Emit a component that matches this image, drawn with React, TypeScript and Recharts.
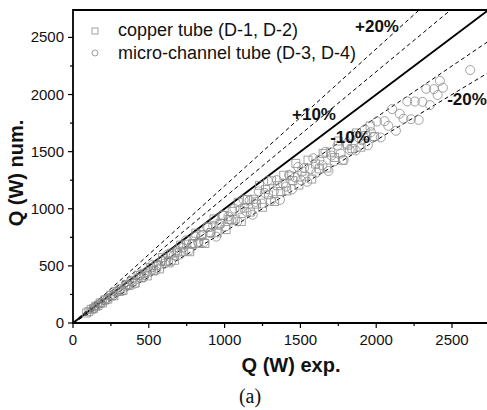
import { ScatterChart, Scatter, XAxis, YAxis, ZAxis, ReferenceArea } from "recharts";

/* ── axes ─────────────────────────────────────────── */
const X_MAX = 2744;
const Y_MAX = 2740;
const TICKS = [0, 250, 500, 750, 1000, 1250, 1500, 1750, 2000, 2250, 2500];

/* ── measured points (Q exp., Q num.) ─────────────── */
const COPPER: [number, number][] = [
	[90, 88], [105, 100], [120, 119], [135, 126], [150, 146], [165, 152], [180, 176],
	[195, 176], [210, 202], [230, 209], [250, 243], [270, 238], [290, 276], [310, 279],
	[330, 284], [350, 336], [370, 329], [390, 363], [410, 349], [430, 417], [450, 396],
	[470, 432], [490, 412], [510, 485], [530, 461], [550, 501], [570, 473], [590, 572],
	[610, 543], [630, 536], [650, 611], [670, 549], [690, 621], [710, 682], [730, 628],
	[750, 690], [770, 624], [790, 695], [810, 786], [830, 697], [850, 774], [870, 696],
	[890, 837], [910, 792], [930, 911], [950, 789], [970, 873], [990, 941], [1010, 818],
	[1030, 906], [1050, 977], [1070, 910], [1090, 1057], [1110, 888], [1130, 1006],
	[1150, 1081], [1170, 971], [1190, 1083], [1210, 1041], [1230, 1205], [1250, 1013],
	[1270, 1168], [1290, 1122], [1310, 1245], [1330, 1064], [1350, 1202], [1370, 1151],
	[1390, 1293], [1410, 1156], [1430, 1287], [1450, 1247], [1470, 1397], [1490, 1207],
	[1510, 1329], [1530, 1285], [1550, 1426], [1575, 1260], [1600, 1392], [1625, 1349],
	[1650, 1485], [1675, 1357], [1700, 1496], [1725, 1449], [1750, 1593], [1780, 1424],
	[1810, 1557], [1840, 1527], [1870, 1664], [1900, 1539], [1930, 1641], [1960, 1725],
	[1990, 1632],
];

const MICRO: [number, number][] = [
	[140, 134], [160, 158], [185, 174], [205, 199], [225, 207], [245, 240], [265, 239],
	[285, 268], [305, 296], [325, 283], [345, 321], [365, 329], [385, 370], [405, 344],
	[425, 387], [445, 423], [465, 400], [485, 446], [505, 449], [525, 509], [545, 458],
	[565, 509], [585, 544], [605, 520], [625, 600], [645, 529], [665, 592], [685, 637],
	[705, 599], [725, 660], [745, 723], [765, 635], [785, 691], [805, 757], [825, 710],
	[845, 761], [865, 709], [885, 841], [905, 787], [925, 851], [945, 756], [965, 859],
	[985, 946], [1005, 844], [1025, 933], [1045, 899], [1065, 1001], [1085, 890],
	[1105, 995], [1125, 1080], [1145, 973], [1165, 1072], [1185, 948], [1205, 1060],
	[1225, 1152], [1245, 1046], [1265, 1139], [1285, 1246], [1305, 1070], [1325, 1153],
	[1345, 1251], [1365, 1078], [1385, 1219], [1405, 1194], [1425, 1297], [1445, 1170],
	[1465, 1275], [1485, 1366], [1505, 1249], [1525, 1357], [1545, 1236], [1565, 1346],
	[1585, 1442], [1605, 1316], [1625, 1430], [1645, 1382], [1665, 1499], [1685, 1331],
	[1705, 1466], [1725, 1415], [1745, 1553], [1765, 1483], [1785, 1428], [1805, 1570],
	[1825, 1515], [1845, 1642], [1865, 1511], [1885, 1621], [1905, 1600], [1925, 1694],
	[1945, 1556], [1965, 1670], [1985, 1628], [2005, 1764], [2030, 1624], [2055, 1767],
	[2080, 1726], [2105, 1873], [2130, 1683], [2155, 1832], [2180, 1788], [2205, 1940],
	[2230, 1784], [2255, 1939], [2280, 1778], [2305, 1936], [2330, 2050], [2355, 1908],
	[2380, 2047], [2405, 1996], [2420, 2120], [2440, 2060], [2620, 2214],
];

/* ── parity line and error bands ──────────────────── */
const GUIDES = [
	{ label: "+20%", ratio: 1.2 },
	{ label: "+10%", ratio: 1.1 },
	{ label: "", ratio: 1.0 },
	{ label: "-10%", ratio: 0.9 },
	{ label: "-20%", ratio: 0.8 },
];

const guideLine = (r: number) =>
	r >= 1
		? [{ x: 0, y: 0 }, { x: Y_MAX / r, y: Y_MAX }]
		: [{ x: 0, y: 0 }, { x: X_MAX, y: X_MAX * r }];

const toPts = (arr: [number, number][]) => arr.map(([x, y]) => ({ x, y }));

const FONT = "'Liberation Sans', Arial, sans-serif";
const MARK = "#8c8c8c";

/* ── ticks: drawn by hand so minor ticks + inner ticks work ── */
const BottomTick = ({ x, y, payload }: any) => {
	const major = payload.value % 500 === 0;
	return (
		<g>
			<line x1={x} x2={x} y1={y} y2={y + (major ? 5 : 3)} stroke="#000" strokeWidth={1.2} />
			{major && (
				<text x={x} y={y + 22} textAnchor="middle" fontSize={15} fontFamily={FONT} fill="#111">
					{payload.value}
				</text>
			)}
		</g>
	);
};

const LeftTick = ({ x, y, payload }: any) => {
	const major = payload.value % 500 === 0;
	return (
		<g>
			<line x1={x} x2={x - (major ? 5 : 3)} y1={y} y2={y} stroke="#000" strokeWidth={1.2} />
			{major && (
				<text x={x - 9} y={y + 5} textAnchor="end" fontSize={15} fontFamily={FONT} fill="#111">
					{payload.value}
				</text>
			)}
		</g>
	);
};

const TopTick = ({ x, y, payload }: any) => {
	const major = payload.value % 500 === 0;
	return <line x1={x} x2={x} y1={y} y2={y + (major ? 5 : 3)} stroke="#000" strokeWidth={1.2} />;
};

const RightTick = ({ x, y, payload }: any) => {
	const major = payload.value % 500 === 0;
	return <line x1={x} x2={x - (major ? 5 : 3)} y1={y} y2={y} stroke="#000" strokeWidth={1.2} />;
};

export default function App() {
	return (
		<div
			style={{
				position: "absolute",
				left: 0,
				top: 0,
				width: 487,
				height: 410,
				overflow: "hidden",
				background: "#fff",
			}}
		>
			<ScatterChart width={489} height={410} margin={{ top: 10, right: 0, bottom: 0, left: 0 }}>
				<XAxis
					xAxisId="b"
					type="number"
					dataKey="x"
					domain={[0, X_MAX]}
					allowDataOverflow
					ticks={TICKS}
					interval={0}
					height={87}
					tickSize={0}
					tickMargin={0}
					tickLine={false}
					axisLine={false}
					tick={<BottomTick />}
				/>
				<XAxis
					xAxisId="t"
					orientation="top"
					type="number"
					dataKey="x"
					domain={[0, X_MAX]}
					allowDataOverflow
					ticks={TICKS}
					interval={0}
					height={0}
					tickSize={0}
					tickMargin={0}
					tickLine={false}
					axisLine={false}
					tick={<TopTick />}
				/>
				<YAxis
					yAxisId="l"
					type="number"
					dataKey="y"
					domain={[0, Y_MAX]}
					allowDataOverflow
					ticks={TICKS}
					interval={0}
					width={73}
					tickSize={0}
					tickMargin={0}
					tickLine={false}
					axisLine={false}
					tick={<LeftTick />}
				/>
				<YAxis
					yAxisId="r"
					orientation="right"
					type="number"
					dataKey="y"
					domain={[0, Y_MAX]}
					allowDataOverflow
					ticks={TICKS}
					interval={0}
					width={0}
					tickSize={0}
					tickMargin={0}
					tickLine={false}
					axisLine={false}
					tick={<RightTick />}
				/>
				<ZAxis range={[50, 50]} />

				{GUIDES.map((g) => (
					<Scatter
						key={g.ratio}
						xAxisId="b"
						yAxisId="l"
						data={guideLine(g.ratio)}
						line={{
							stroke: "#000",
							strokeWidth: g.ratio === 1 ? 1.8 : 1,
							strokeDasharray: g.ratio === 1 ? undefined : "4 3",
						}}
						shape={() => <g />}
						isAnimationActive={false}
					/>
				))}

				<Scatter
					xAxisId="b"
					yAxisId="l"
					name="copper tube (D-1, D-2)"
					data={toPts(COPPER)}
					shape="square"
					fill="none"
					stroke={MARK}
					strokeWidth={0.8}
					isAnimationActive={false}
				/>
				<Scatter
					xAxisId="b"
					yAxisId="l"
					name="micro-channel tube (D-3, D-4)"
					data={toPts(MICRO)}
					shape="circle"
					fill="none"
					stroke={MARK}
					strokeWidth={0.8}
					isAnimationActive={false}
				/>

				{/* plot frame */}
				<ReferenceArea
					xAxisId="b"
					yAxisId="l"
					x1={0}
					x2={X_MAX}
					y1={0}
					y2={Y_MAX}
					fill="none"
					fillOpacity={0}
					stroke="#000"
					strokeWidth={1.8}
					strokeOpacity={1}
					ifOverflow="visible"
				/>
			</ScatterChart>

			{/* legend, band labels and axis titles */}
			<svg
				width={487}
				height={410}
				style={{ position: "absolute", left: 0, top: 0, pointerEvents: "none" }}
			>
				<rect x={92} y={28} width={6} height={6} fill="none" stroke={MARK} strokeWidth={0.8} />
				<circle cx={95} cy={53} r={3} fill="none" stroke={MARK} strokeWidth={0.8} />
				<text x={118} y={36} fontSize={18} fontFamily={FONT} fill="#111">
					copper tube (D-1, D-2)
				</text>
				<text x={118} y={59} fontSize={18} fontFamily={FONT} fill="#111">
					micro-channel tube (D-3, D-4)
				</text>

				<g fontSize={17} fontWeight="bold" fontFamily={FONT} fill="#111" textAnchor="middle">
					<text x={377} y={32}>+20%</text>
					<text x={314} y={120}>+10%</text>
					<text x={350} y={143}>-10%</text>
					<text x={467} y={105}>-20%</text>
				</g>

				<text
					x={291}
					y={372}
					textAnchor="middle"
					fontSize={20}
					fontWeight="bold"
					fontFamily={FONT}
					fill="#111"
				>
					Q (W) exp.
				</text>
				<text
					x={23}
					y={173}
					transform="rotate(-90, 23, 173)"
					textAnchor="middle"
					fontSize={20}
					fontWeight="bold"
					fontFamily={FONT}
					fill="#111"
				>
					Q (W) num.
				</text>
				<text
					x={250}
					y={403}
					textAnchor="middle"
					fontSize={20}
					fontFamily="'Liberation Serif', 'Times New Roman', serif"
					fill="#111"
				>
					(a)
				</text>
			</svg>
		</div>
	);
}
